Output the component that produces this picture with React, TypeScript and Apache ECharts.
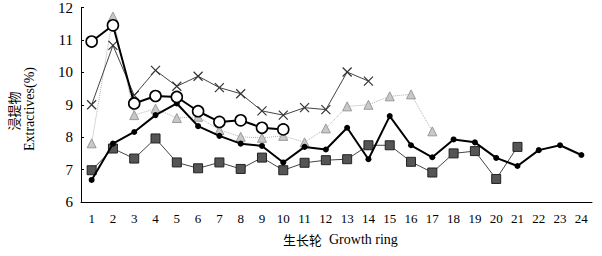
import React, { useEffect, useRef } from "react";
import * as echarts from "echarts";

const rings = ["1","2","3","4","5","6","7","8","9","10","11","12","13","14","15","16","17","18","19","20","21","22","23","24"];
const seriesCircle = [10.95, 11.45, 9.04, 9.27, 9.24, 8.8, 8.47, 8.52, 8.29, 8.24];
const seriesCross = [9.0, 10.83, 9.29, 10.06, 9.57, 9.88, 9.53, 9.34, 8.81, 8.68, 8.91, 8.85, 10.01, 9.73];
const seriesTriangle = [7.81, 11.72, 8.68, 8.88, 8.59, 8.63, 8.22, 8.01, 7.98, 8.04, 7.84, 8.27, 8.95, 9.0, 9.26, 9.32, 8.18];
const seriesDot = [6.68, 7.8, 8.16, 8.68, 9.04, 8.34, 8.04, 7.8, 7.73, 7.22, 7.7, 7.62, 8.29, 7.32, 8.65, 7.75, 7.38, 7.93, 7.84, 7.36, 7.11, 7.6, 7.75, 7.45];
const seriesSquare = [6.98, 7.65, 7.34, 7.96, 7.22, 7.04, 7.22, 7.02, 7.37, 6.98, 7.21, 7.29, 7.32, 7.75, 7.75, 7.24, 6.91, 7.5, 7.57, 6.71, 7.7];
const yTicks = { min: 6, max: 12, interval: 1 };

const serif = "'Liberation Serif', 'DejaVu Serif', serif";
const cjk = "'Noto Sans CJK SC', sans-serif";

export default function App() {
  const ref = useRef<HTMLDivElement>(null);
  useEffect(() => {
    if (!ref.current) return;
    const chart = echarts.init(ref.current, null, { renderer: "svg" });
    chart.setOption({
      animation: false,
      backgroundColor: "#fff",
      grid: { left: 81, right: 10, top: 7, bottom: 54, containLabel: false },
      xAxis: {
        type: "category",
        data: rings,
        boundaryGap: true,
        axisLine: { lineStyle: { color: "#000", width: 1 } },
        axisTick: { inside: true, length: 4, lineStyle: { color: "#000" } },
        axisLabel: { color: "#000", fontFamily: serif, fontSize: 13, margin: 10 },
        splitLine: { show: false },
      },
      yAxis: {
        type: "value",
        min: yTicks.min,
        max: yTicks.max,
        interval: yTicks.interval,
        axisLine: { show: true, lineStyle: { color: "#000", width: 1 } },
        axisTick: { show: true, inside: true, length: 3, lineStyle: { color: "#000" } },
        axisLabel: { color: "#000", fontFamily: serif, fontSize: 15, margin: 8 },
        splitLine: { show: false },
      },
      graphic: [
        {
          type: "text",
          x: 13,
          y: 111,
          rotation: Math.PI / 2,
          style: { text: "浸提物", font: `13px ${cjk}`, fill: "#000", align: "center", verticalAlign: "middle" },
        },
        {
          type: "text",
          x: 29,
          y: 109,
          rotation: Math.PI / 2,
          style: { text: "Extractives(%)", font: `14px ${serif}`, fill: "#000", align: "center", verticalAlign: "middle" },
        },
        {
          type: "text",
          left: 283,
          top: 232,
          style: {
            rich: {
              c: { fontFamily: cjk, fontSize: 13, fill: "#000" },
              e: { fontFamily: serif, fontSize: 14, fill: "#000" },
            },
            text: "{c|生长轮}{e|  Growth ring}",
          },
        },
      ],
      series: [
        {
          type: "line",
          data: seriesTriangle,
          symbol: "triangle",
          symbolSize: 9,
          lineStyle: { color: "#b0b0b0", width: 1, type: "dotted" },
          itemStyle: { color: "#c8c8c8", borderColor: "#9a9a9a", borderWidth: 1 },
          z: 1,
        },
        {
          type: "line",
          data: seriesCross,
          symbol: "path://M0,0L10,10M10,0L0,10",
          symbolSize: 9,
          lineStyle: { color: "#444", width: 1 },
          itemStyle: { color: "none", borderColor: "#333", borderWidth: 1.2 },
          z: 2,
        },
        {
          type: "line",
          data: seriesSquare,
          symbol: "rect",
          symbolSize: 9,
          lineStyle: { color: "#444", width: 1 },
          itemStyle: { color: "#555", borderColor: "#222", borderWidth: 1 },
          z: 3,
        },
        {
          type: "line",
          data: seriesDot,
          symbol: "circle",
          symbolSize: 6,
          lineStyle: { color: "#000", width: 2 },
          itemStyle: { color: "#000" },
          z: 4,
        },
        {
          type: "line",
          data: seriesCircle,
          symbol: "circle",
          symbolSize: 11,
          lineStyle: { color: "#000", width: 2 },
          itemStyle: { color: "#fff", borderColor: "#000", borderWidth: 1.6 },
          z: 5,
        },
      ],
    });
    return () => chart.dispose();
  }, []);
  return <div ref={ref} style={{ width: 602, height: 256, position: "absolute", left: 0, top: 0 }} />;
}
